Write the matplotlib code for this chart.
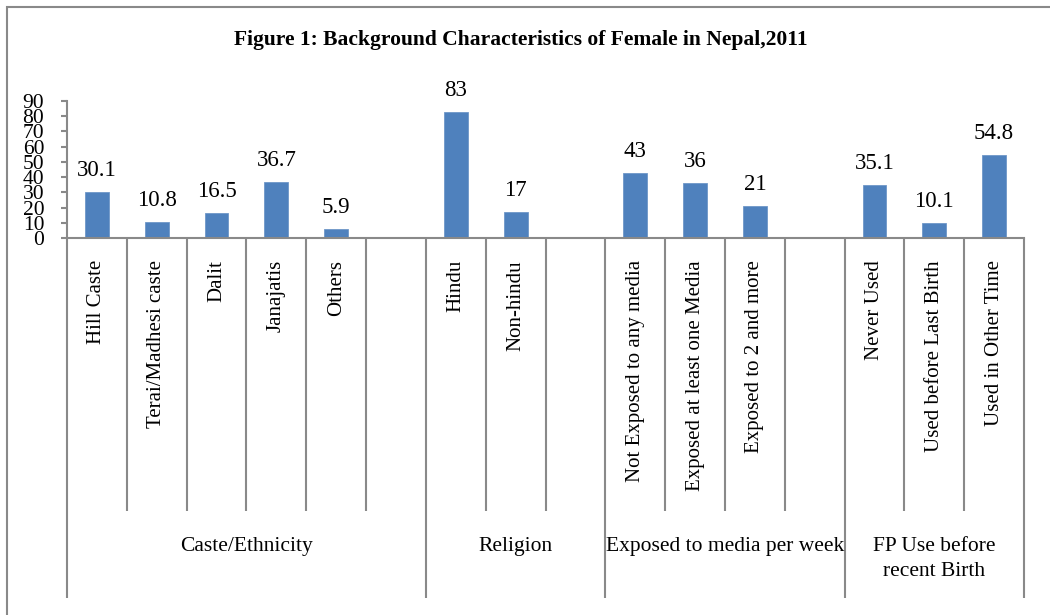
import matplotlib.pyplot as plt
import matplotlib.transforms as mtransforms
from matplotlib.patches import Rectangle
import numpy as np

plt.rcParams['font.family'] = ['Liberation Serif', 'DejaVu Serif']

# categories, '' marks the empty slot that closes each group
categories = ['Hill Caste', 'Terai/Madhesi caste', 'Dalit', 'Janajatis', 'Others', '',
              'Hindu', 'Non-hindu', '',
              'Not Exposed to any media', 'Exposed at least one Media', 'Exposed to 2 and more', '',
              'Never Used', 'Used before Last Birth', 'Used in Other Time']
values = [30.1, 10.8, 16.5, 36.7, 5.9, None,
          83, 17, None,
          43, 36, 21, None,
          35.1, 10.1, 54.8]
value_labels = ['30.1', '10.8', '16.5', '36.7', '5.9', '',
                '83', '17', '',
                '43', '36', '21', '',
                '35.1', '10.1', '54.8']
group_names = ['Caste/Ethnicity', 'Religion', 'Exposed to media per week', 'FP Use before\nrecent Birth']
group_sizes = [6, 3, 4, 3]
yticks = [0, 10, 20, 30, 40, 50, 60, 70, 80, 90]

W, H = 1050, 615
fig = plt.figure(figsize=(W / 100, H / 100), dpi=100)
ax = fig.add_axes([67 / W, (H - 238) / H, (1024 - 67) / W, (238 - 101) / H])

grey = '#898989'
x = np.arange(len(categories))
heights = [v if v is not None else 0 for v in values]
bars = ax.bar(x, heights, width=0.4, color='#4F81BD', edgecolor='#6F97C8', linewidth=0.6)
for xi, v, lab in zip(x, values, value_labels):
    if v is None:
        continue
    ax.annotate(lab, (xi, v), xytext=(0, 11.5), textcoords='offset points',
                ha='center', va='baseline', fontsize=16.5)

ax.set_xlim(-0.5, len(categories) - 0.5)
ax.set_ylim(0, 90)
ax.set_yticks(yticks)
ax.tick_params(axis='y', length=4.3, width=1.5, color=grey, pad=12, labelsize=15.5)
ax.tick_params(axis='x', length=0, labelbottom=False)
for s in ['top', 'right']:
    ax.spines[s].set_visible(False)
for s in ['left', 'bottom']:
    ax.spines[s].set_color(grey)
    ax.spines[s].set_linewidth(1.5)

# multi-level category axis below the plot
trans = mtransforms.blended_transform_factory(ax.transData, fig.transFigure)
y_axis = (H - 238) / H
y_inner = (H - 511) / H
y_outer = (H - 598) / H
for xi, lab in zip(x, categories):
    if lab:
        ax.text(xi, (H - 260) / H, lab, transform=trans, rotation=90,
                ha='center', va='top', fontsize=15)

bounds = np.cumsum([0] + group_sizes) - 0.5
for b in np.arange(-0.5, len(categories)):
    low = y_outer if np.isclose(bounds, b).any() else y_inner
    ax.plot([b, b], [y_axis, low], transform=trans, color=grey, lw=1.5,
            clip_on=False, solid_capstyle='butt')
for name, lo, hi in zip(group_names, bounds[:-1], bounds[1:]):
    ypos = (H - 546) / H if '\n' not in name else (H - 559) / H
    ax.text((lo + hi) / 2, ypos, name, transform=trans, ha='center', va='center',
            fontsize=15.5, linespacing=1.4)

fig.text(521 / W, (H - 40) / H, 'Figure 1: Background Characteristics of Female in Nepal,2011',
         ha='center', va='center', fontsize=15.5, fontweight='bold')

# chart area border (left and top edges)
fig.add_artist(Rectangle((7 / W, -0.2), 1.2, 0.2 + (H - 7) / H, transform=fig.transFigure,
                         fill=False, edgecolor=grey, lw=1.5))

fig.savefig('out.png', dpi=100)
